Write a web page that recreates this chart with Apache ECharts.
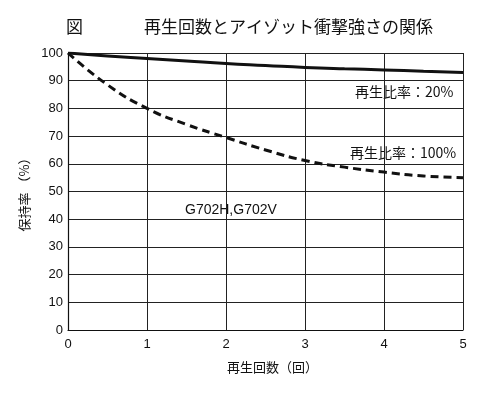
<!DOCTYPE html>
<html><head><meta charset="utf-8">
<script src="https://cdn.jsdelivr.net/npm/echarts@6/dist/echarts.min.js"></script>
<style>html,body{margin:0;padding:0;background:#fff}#c{width:500px;height:395px}</style>
</head><body><div id="c"></div>
<script>
const xValues = [0, 0.5, 1, 1.5, 2, 2.5, 3, 3.5, 4, 4.5, 5];
const ratio20 = [100, 98.9, 98.0, 97.1, 96.2, 95.5, 94.8, 94.3, 93.9, 93.4, 93.0];
const ratio100 = [100, 88.5, 80.0, 74.2, 69.5, 65.0, 61.2, 58.8, 57.0, 55.6, 55.0];
const seriesNames = ['再生比率：20%', '再生比率：100%'];
const xTicks = [0, 1, 2, 3, 4, 5];
const yTicks = [0, 10, 20, 30, 40, 50, 60, 70, 80, 90, 100];

const font = '"Noto Sans CJK JP", sans-serif';
const chart = echarts.init(document.getElementById('c'));
chart.setOption({
  backgroundColor: '#fff',
  animation: false,
  grid: {left: 68, right: 37, top: 53, bottom: 65},
  xAxis: {
    type: 'value', min: 0, max: 5, interval: 1,
    name: '再生回数（回）', nameLocation: 'middle', nameGap: 31,
    nameTextStyle: {color: '#111', fontSize: 13, fontFamily: font, padding: [0, 0, 0, 14]},
    axisLine: {lineStyle: {color: '#111', width: 1.2}},
    axisTick: {show: false},
    axisLabel: {color: '#111', fontSize: 13, fontFamily: 'Liberation Sans', margin: 8},
    splitLine: {show: true, lineStyle: {color: '#222', width: 1}}
  },
  yAxis: {
    type: 'value', min: 0, max: 100, interval: 10,
    name: '保持率 （%）', nameLocation: 'middle', nameGap: 36, nameRotate: 90,
    nameTextStyle: {color: '#111', fontSize: 13, fontFamily: font},
    axisLine: {show: true, lineStyle: {color: '#111', width: 1.2}},
    axisTick: {show: false},
    axisLabel: {color: '#111', fontSize: 13, fontFamily: 'Liberation Sans', margin: 5},
    splitLine: {show: true, lineStyle: {color: '#222', width: 1}}
  },
  series: [
    {name: seriesNames[0], type: 'line', smooth: true, symbol: 'none',
     data: xValues.map((x, i) => [x, ratio20[i]]),
     lineStyle: {color: '#111', width: 3}},
    {name: seriesNames[1], type: 'line', smooth: true, symbol: 'none',
     data: xValues.map((x, i) => [x, ratio100[i]]),
     lineStyle: {color: '#111', width: 3, type: [8, 5]}}
  ],
  graphic: [
    {type: 'text', left: 66, top: 18, style: {text: '図', fontSize: 17, fontFamily: font, fill: '#111'}},
    {type: 'text', left: 144, top: 18, style: {text: '再生回数とアイゾット衝撃強さの関係', fontSize: 17, fontFamily: font, fill: '#111'}},
    {type: 'text', left: 355, top: 85, style: {text: seriesNames[0], fontSize: 14, fontFamily: font, fill: '#111'}},
    {type: 'text', left: 350, top: 146, style: {text: seriesNames[1], fontSize: 14, fontFamily: font, fill: '#111'}},
    {type: 'text', left: 185, top: 203, style: {text: 'G702H,G702V', fontSize: 14, fontFamily: 'Liberation Sans', fill: '#111'}}
  ]
});
</script></body></html>
